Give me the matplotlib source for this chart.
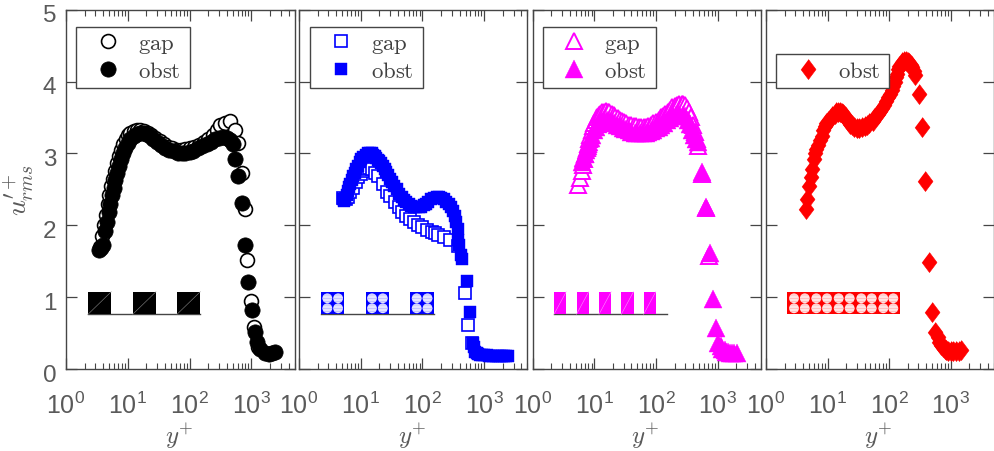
#!/usr/bin/env python3
"""Streamwise velocity fluctuation profiles over four roughness layouts."""

import matplotlib
matplotlib.use("Agg")
import matplotlib.pyplot as plt
from matplotlib.patches import Ellipse, Rectangle
from matplotlib.ticker import FixedLocator, NullFormatter
from matplotlib.transforms import ScaledTranslation

plt.rcParams["font.family"] = ["Liberation Sans", "DejaVu Sans"]
plt.rcParams["mathtext.fontset"] = "cm"
plt.rcParams["hatch.linewidth"] = 0.5

# ── values ───────────────────────────────────────────────────────────
P1_OBST_Y = [3.4, 3.7, 4.0, 4.3, 4.6, 4.9, 5.2, 5.5, 5.9, 6.3, 6.7, 7.2, 7.7, 8.3, 9, 10, 11, 12.5, 14, 16, 18, 20, 23,
             26, 30, 35, 40, 47, 55, 65, 75, 85, 100, 115, 135, 160, 190, 220, 260, 300, 350, 400, 450, 500, 550, 620,
             705, 795, 900, 1020, 1150, 1230, 1400, 1680, 1900, 2150, 2450]
P1_OBST_U = [1.66, 1.68, 1.72, 1.92, 2.05, 2.18, 2.3, 2.42, 2.52, 2.63, 2.73, 2.83, 2.92, 3.0, 3.08, 3.15, 3.2, 3.24,
             3.27, 3.28, 3.28, 3.27, 3.24, 3.2, 3.16, 3.12, 3.08, 3.05, 3.03, 3.01, 3.0, 3.01, 3.02, 3.04, 3.07, 3.1,
             3.13, 3.16, 3.2, 3.22, 3.23, 3.22, 3.18, 3.13, 2.92, 2.68, 2.31, 1.72, 1.21, 0.82, 0.52, 0.38, 0.28, 0.22,
             0.21, 0.22, 0.23]
P1_GAP_Y = [3.5, 3.8, 4.1, 4.4, 4.7, 5.0, 5.4, 5.8, 6.2, 6.7, 7.2, 7.8, 8.5, 9.3, 10, 11, 12.5, 14, 16, 18, 21, 24, 28,
            33, 38, 45, 52, 62, 72, 85, 100, 120, 140, 170, 200, 240, 280, 315, 380, 457, 550, 620, 705, 780, 860, 980,
            1120, 1300]
P1_GAP_U = [1.7, 1.85, 2.0, 2.15, 2.3, 2.42, 2.55, 2.65, 2.75, 2.87, 2.96, 3.05, 3.13, 3.2, 3.25, 3.29, 3.31, 3.32,
            3.32, 3.31, 3.28, 3.25, 3.22, 3.17, 3.13, 3.09, 3.07, 3.05, 3.05, 3.06, 3.07, 3.09, 3.12, 3.16, 3.2, 3.26,
            3.33, 3.39, 3.43, 3.45, 3.33, 3.15, 2.73, 2.22, 1.52, 0.94, 0.59, 0.3]

P2_OBST_Y = [5.2, 5.4, 5.6, 5.9, 6.2, 6.5, 6.8, 7.2, 7.6, 8, 8.5, 9, 9.6, 10.2, 11, 12, 13, 14, 15, 16, 17, 18, 19, 20,
             21.5, 23, 24.5, 26, 28, 30, 32, 35, 38, 42, 46, 50, 55, 60, 66, 72, 80, 88, 96, 105, 115, 125, 140, 155,
             170, 185, 200, 220, 240, 265, 290, 310, 335, 355, 370, 380, 395, 415, 433, 522, 590, 653, 680, 715, 760,
             800, 850, 910, 1000, 1100, 1200, 1300, 1400, 1550, 1700, 1800, 1950, 2100, 2280, 2460]
P2_OBST_U = [2.36, 2.34, 2.36, 2.42, 2.48, 2.53, 2.58, 2.63, 2.68, 2.73, 2.78, 2.83, 2.88, 2.92, 2.95, 2.98, 3.0, 3.0,
             3.0, 2.98, 2.96, 2.94, 2.91, 2.89, 2.86, 2.82, 2.78, 2.74, 2.7, 2.65, 2.6, 2.55, 2.5, 2.44, 2.39, 2.35,
             2.32, 2.29, 2.27, 2.26, 2.25, 2.25, 2.26, 2.28, 2.3, 2.33, 2.36, 2.38, 2.39, 2.39, 2.38, 2.36, 2.33, 2.29,
             2.25, 2.2, 2.13, 2.05, 1.95, 1.8, 1.72, 1.58, 1.53, 1.22, 0.8, 0.36, 0.3, 0.24, 0.22, 0.21, 0.2, 0.2, 0.19,
             0.19, 0.18, 0.18, 0.18, 0.18, 0.18, 0.18, 0.18, 0.18, 0.18, 0.18]
P2_GAP_Y = [5.2, 5.7, 6.2, 6.8, 7.5, 8.3, 9.2, 10, 11, 12, 13.5, 15, 17, 19, 23, 27, 30, 36, 41, 46, 54, 63, 72, 85, 97,
            118, 141, 160, 182, 220, 280, 375, 484, 550, 640]
P2_GAP_U = [2.38, 2.36, 2.4, 2.46, 2.52, 2.6, 2.67, 2.72, 2.76, 2.79, 2.8, 2.78, 2.73, 2.69, 2.57, 2.46, 2.41, 2.32,
            2.25, 2.18, 2.13, 2.09, 2.05, 2.01, 1.97, 1.94, 1.91, 1.89, 1.86, 1.83, 1.79, 1.71, 1.06, 0.61, 0.36]

P3_OBST_Y = [6.3, 6.6, 7, 7.4, 7.8, 8.3, 8.8, 9.3, 10, 10.6, 11.5, 12.5, 13.5, 14.5, 16, 17.5, 19, 21, 23, 26, 29, 32,
             36, 40, 45, 50, 56, 62, 68, 75, 82, 90, 100, 110, 120, 135, 150, 170, 190, 215, 240, 276, 300, 330, 360,
             390, 420, 450, 480, 560, 640, 745, 830, 935, 1030, 1120, 1200, 1300, 1390, 1500, 1600, 1700, 1850, 2030]
P3_OBST_U = [2.88, 2.93, 2.99, 3.05, 3.1, 3.16, 3.21, 3.26, 3.32, 3.37, 3.41, 3.44, 3.45, 3.46, 3.46, 3.45, 3.44, 3.42,
             3.4, 3.38, 3.36, 3.34, 3.32, 3.3, 3.29, 3.28, 3.28, 3.28, 3.29, 3.3, 3.31, 3.33, 3.35, 3.37, 3.39, 3.43,
             3.46, 3.49, 3.52, 3.54, 3.55, 3.54, 3.52, 3.47, 3.41, 3.33, 3.26, 3.2, 3.16, 2.74, 2.25, 1.61, 0.98, 0.57,
             0.36, 0.32, 0.28, 0.26, 0.24, 0.23, 0.22, 0.22, 0.22, 0.22]
P3_GAP_Y = [5.5, 5.8, 6.2, 6.5, 6.8, 7.1, 7.5, 7.8, 8.2, 8.6, 9, 9.5, 10, 10.5, 11, 11.7, 12.5, 13.5, 14.5, 15.5, 16.5,
            17.5, 19, 20.5, 22, 24, 26, 28, 30, 33, 36, 40, 44, 48, 53, 58, 63, 68, 75, 82, 90, 100, 110, 120, 130, 140,
            155, 170, 185, 200, 220, 240, 260, 276, 295, 320, 345, 370, 400, 430, 455, 480, 560, 640, 730]
P3_GAP_U = [2.56, 2.66, 2.75, 2.84, 2.92, 2.99, 3.07, 3.13, 3.2, 3.26, 3.32, 3.38, 3.43, 3.47, 3.5, 3.53, 3.55, 3.57,
            3.58, 3.59, 3.58, 3.57, 3.55, 3.53, 3.51, 3.49, 3.47, 3.45, 3.44, 3.42, 3.4, 3.39, 3.38, 3.38, 3.37, 3.37,
            3.37, 3.37, 3.38, 3.4, 3.42, 3.44, 3.47, 3.5, 3.52, 3.55, 3.58, 3.61, 3.64, 3.66, 3.68, 3.69, 3.69, 3.69,
            3.67, 3.63, 3.57, 3.5, 3.4, 3.3, 3.2, 3.1, 2.72, 2.24, 1.57]

P4_OBST_Y = [4.4, 4.7, 5, 5.3, 5.7, 6, 6.3, 6.6, 7, 7.5, 8, 8.5, 9, 9.5, 10, 11, 12, 13, 14, 15, 16, 17, 18, 19, 20,
             21.5, 23, 25, 27, 30, 33, 36, 40, 44, 48, 54, 58, 62, 66, 71, 77, 83, 90, 96, 103, 110, 116, 123, 130, 135,
             142, 148, 155, 165, 178, 190, 205, 214, 228, 240, 255, 269, 302, 340, 390, 444, 503, 569, 620, 660, 705,
             750, 800, 850, 920, 1000, 1100, 1230, 1350, 1480]
P4_OBST_U = [2.23, 2.36, 2.55, 2.67, 2.78, 2.92, 3.0, 3.06, 3.12, 3.18, 3.24, 3.32, 3.38, 3.42, 3.45, 3.48, 3.52, 3.55,
             3.57, 3.57, 3.57, 3.56, 3.55, 3.52, 3.49, 3.45, 3.41, 3.39, 3.37, 3.36, 3.36, 3.37, 3.38, 3.4, 3.42, 3.45,
             3.49, 3.52, 3.55, 3.59, 3.63, 3.68, 3.73, 3.78, 3.83, 3.88, 3.94, 4.0, 4.07, 4.11, 4.17, 4.22, 4.25, 4.27,
             4.28, 4.28, 4.27, 4.26, 4.23, 4.2, 4.14, 4.09, 3.82, 3.37, 2.61, 1.49, 0.8, 0.52, 0.44, 0.38, 0.33, 0.3,
             0.28, 0.26, 0.25, 0.25, 0.25, 0.25, 0.25, 0.26]

COLORS = ["black", "#0000ff", "#ff00ff", "#ff0000"]
YTICKS = [0, 1, 2, 3, 4, 5]
XTICKS = [1, 10, 100, 1000]
XTICK_LABELS = [r"$\mathregular{10^{0}}$", r"$\mathregular{10^{1}}$", r"$\mathregular{10^{2}}$", r"$\mathregular{10^{3}}$"]
GRAY = "#454545"
TEXT_GRAY = "#5a5a5a"

# ── layout, in pixels of the 994x452 figure ──────────────────────────
W, H = 994, 452
PANEL_LEFT = [66, 299, 532.7, 766]
PANEL_W = [228.5, 228.3, 228, 227.5]
AX_TOP, AX_BOTTOM = 10.7, 370
LEGEND_BOX = [(76.3, 27.7, 113.4, 61.6), (309.7, 27.7, 113, 61.6), (542.7, 27.7, 113.3, 61.6), (776, 55, 113, 34.3)]
BLOCK_TOP, BLOCK_BOTTOM = 292.7, 315.3
DIAMOND = [(0, 1), (0.75, 0), (0, -1), (-0.75, 0)]


def make_axes(fig, i):
    ax = fig.add_axes([PANEL_LEFT[i] / W, 1 - AX_BOTTOM / H, PANEL_W[i] / W, (AX_BOTTOM - AX_TOP) / H])
    ax.set_xscale("log")
    ax.set_xlim(1, 5000)
    ax.set_ylim(0, 5)
    ax.set_xticks(XTICKS)
    ax.set_xticklabels(XTICK_LABELS)
    ax.xaxis.set_minor_locator(FixedLocator([m * 10 ** d for d in range(4) for m in range(2, 10)]))
    ax.xaxis.set_minor_formatter(NullFormatter())
    ax.set_yticks(YTICKS)
    ax.tick_params(axis="both", which="major", direction="in", length=7.6, width=0.9, top=True, right=True,
                   color=GRAY, labelcolor=TEXT_GRAY)
    ax.tick_params(axis="x", which="minor", direction="in", length=4, width=0.8, top=True, color=GRAY)
    ax.tick_params(axis="x", which="major", pad=16, labelsize=18)
    ax.tick_params(axis="y", which="major", pad=7, labelsize=17.5)
    if i > 0:
        ax.tick_params(axis="y", labelleft=False)
    else:
        # the y digits sit a little under their ticks
        shift = ScaledTranslation(0, -3 / 100, fig.dpi_scale_trans)
        for lab in ax.get_yticklabels():
            lab.set_transform(lab.get_transform() + shift)
    for sp in ax.spines.values():
        sp.set_color(GRAY)
        sp.set_linewidth(1.0)
    ax.set_xlabel(r"$y^{+}$", fontsize=18, color=TEXT_GRAY, va="center")
    ax.xaxis.set_label_coords(0.495, -(436 - AX_BOTTOM) / (AX_BOTTOM - AX_TOP))
    return ax


def px_rect(ax, i, x0, x1, color):
    """Block of the small layout sketch, given in figure pixels."""
    left = (x0 - PANEL_LEFT[i]) / PANEL_W[i]
    width = (x1 - x0) / PANEL_W[i]
    bottom = (AX_BOTTOM - BLOCK_BOTTOM) / (AX_BOTTOM - AX_TOP)
    height = (BLOCK_BOTTOM - BLOCK_TOP) / (AX_BOTTOM - AX_TOP)
    ax.add_patch(Rectangle((left, bottom), width, height, transform=ax.transAxes, fc=color, ec="none", zorder=3))
    return left, bottom, width, height


def sketch_line(ax, i, x0, x1):
    y = (AX_BOTTOM - BLOCK_BOTTOM) / (AX_BOTTOM - AX_TOP)
    ax.plot([(x0 - PANEL_LEFT[i]) / PANEL_W[i], (x1 - PANEL_LEFT[i]) / PANEL_W[i]], [y, y],
            transform=ax.transAxes, color=GRAY, lw=1.0, zorder=2)


def sketch_diag(ax, rect, color):
    left, bottom, width, height = rect
    ax.plot([left, left + width], [bottom, bottom + height], transform=ax.transAxes, color=color, lw=0.4, zorder=4)


def sketch_circles(ax, i, cx_list, face, stripe):
    for cx in cx_list:
        for cy in (299.3, 309.3):
            e = Ellipse(((cx - PANEL_LEFT[i]) / PANEL_W[i], (AX_BOTTOM - cy) / (AX_BOTTOM - AX_TOP)),
                        9.8 / PANEL_W[i], 9.8 / (AX_BOTTOM - AX_TOP), transform=ax.transAxes,
                        fc=face, ec=stripe, lw=0, hatch="-----", zorder=4)
            ax.add_patch(e)


def add_legend(ax, i, handles, labels, lift):
    x, y, w, h = LEGEND_BOX[i]
    ax_h = AX_BOTTOM - AX_TOP
    # frame drawn on its own so that its size does not follow the text
    ax.add_patch(Rectangle(((x - PANEL_LEFT[i]) / PANEL_W[i], (AX_BOTTOM - y - h) / ax_h), w / PANEL_W[i], h / ax_h,
                           transform=ax.transAxes, fc="white", ec=GRAY, lw=1.0, zorder=9))
    leg = ax.legend(handles, labels, loc="upper left",
                    bbox_to_anchor=((x - PANEL_LEFT[i]) / PANEL_W[i], (AX_BOTTOM - y + lift) / ax_h),
                    borderaxespad=0, fontsize=16.4, frameon=False, labelcolor="#404040",
                    handlelength=2.18, handletextpad=0.22, borderpad=0.3, labelspacing=0.2, numpoints=1)
    leg.set_zorder(10)


def main():
    fig = plt.figure(figsize=(W / 100, H / 100), dpi=100)

    # panel 1: circles, square bars
    ax = make_axes(fig, 0)
    g, = ax.plot(P1_GAP_Y, P1_GAP_U, "o", ms=10, mfc="white", mec=COLORS[0], mew=1.2, ls="none")
    o, = ax.plot(P1_OBST_Y, P1_OBST_U, "o", ms=11, mfc=COLORS[0], mec=COLORS[0], mew=0.5, ls="none")
    add_legend(ax, 0, [g, o], [r"$\mathrm{gap}$", r"$\mathrm{obst}$"], 3)
    sketch_line(ax, 0, 88, 200.3)
    for x0 in (88, 132.7, 177):
        sketch_diag(ax, px_rect(ax, 0, x0, x0 + 23.3, COLORS[0]), "#8a8a8a")
    ax.set_ylabel(r"$u_{rms}^{\prime +}$", fontsize=20, color=TEXT_GRAY, va="center", ha="center")
    ax.yaxis.set_label_coords((19 - PANEL_LEFT[0]) / PANEL_W[0], 0.5)

    # panel 2: squares, cylinder groups
    ax = make_axes(fig, 1)
    g, = ax.plot(P2_GAP_Y, P2_GAP_U, "s", ms=8, mfc="white", mec=COLORS[1], mew=1.2, ls="none")
    o, = ax.plot(P2_OBST_Y, P2_OBST_U, "s", ms=8.6, mfc=COLORS[1], mec=COLORS[1], mew=0.3, ls="none")
    add_legend(ax, 1, [g, o], [r"$\mathrm{gap}$", r"$\mathrm{obst}$"], 3)
    sketch_line(ax, 1, 321, 433.7)
    for x0 in (321, 365.7, 410.4):
        px_rect(ax, 1, x0, x0 + 23.3, COLORS[1])
        sketch_circles(ax, 1, [x0 + 6.3, x0 + 17.1], "#e4e4ff", "#b4b4ff")

    # panel 3: triangles, thin bars
    ax = make_axes(fig, 2)
    g, = ax.plot(P3_GAP_Y, P3_GAP_U, "^", ms=11, mfc="white", mec=COLORS[2], mew=1.4, ls="none")
    o, = ax.plot(P3_OBST_Y, P3_OBST_U, "^", ms=12.5, mfc=COLORS[2], mec=COLORS[2], mew=0.3, ls="none")
    add_legend(ax, 2, [g, o], [r"$\mathrm{gap}$", r"$\mathrm{obst}$"], 3)
    sketch_line(ax, 2, 554, 666.7)
    for x0 in (554, 576.5, 599, 621.3, 643.6):
        sketch_diag(ax, px_rect(ax, 2, x0, x0 + 12.2, COLORS[2]), "#ff90ff")

    # panel 4: diamonds, dense cylinders
    ax = make_axes(fig, 3)
    o, = ax.plot(P4_OBST_Y, P4_OBST_U, marker=DIAMOND, ms=14.4, mfc=COLORS[3], mec=COLORS[3], mew=0.4, ls="none")
    add_legend(ax, 3, [o], [r"$\mathrm{obst}$"], 2)
    px_rect(ax, 3, 786.7, 899.7, COLORS[3])
    sketch_circles(ax, 3, [794, 804.8, 816.3, 827, 838.7, 849.7, 861.3, 871.7, 883.3, 893.3], "#ffe4e4", "#ffb0b0")

    fig.savefig("out.png", dpi=100)
    plt.close(fig)


if __name__ == "__main__":
    main()
